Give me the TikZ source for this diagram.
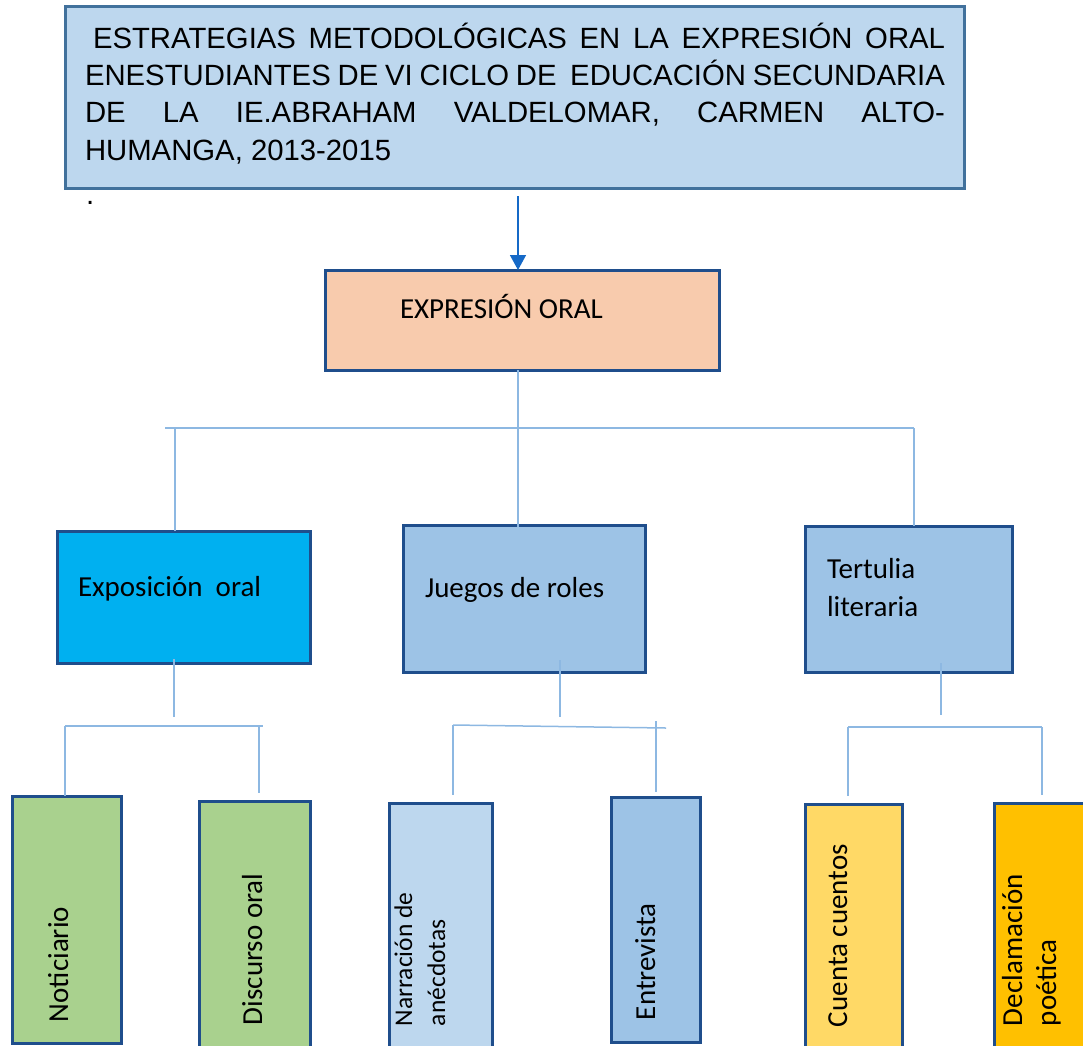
\documentclass[tikz,border=0pt]{standalone}
\usepackage{fontspec}
\setmainfont{Carlito}
\newfontfamily\arialf{Liberation Sans}
\usetikzlibrary{calc,arrows.meta}
\definecolor{titlefill}{HTML}{BDD7EE}
\definecolor{titleline}{HTML}{41719C}
\definecolor{boxline}{HTML}{1F4E8C}
\definecolor{connc}{HTML}{8DB8E2}
\definecolor{arrowc}{HTML}{1569C7}
\definecolor{exprfill}{HTML}{F8CBAD}
\definecolor{expofill}{HTML}{00B0F0}
\definecolor{midblue}{HTML}{9DC3E6}
\definecolor{lightblue}{HTML}{BDD7EE}
\definecolor{greenfill}{HTML}{A9D18E}
\definecolor{yellowfill}{HTML}{FFD966}
\definecolor{orangefill}{HTML}{FFC000}
\begin{document}
\begin{tikzpicture}[x=1pt,y=-1pt,
  box/.style={draw=boxline, line width=3pt, inner sep=0pt, outer sep=0pt},
  lbl/.style={font=\fontsize{29}{35}\selectfont, inner sep=0pt, outer sep=0pt, anchor=base west},
  vlbl/.style={lbl, rotate=90},
  ttl/.style={inner sep=0pt, outer sep=0pt, anchor=base west, font=\arialf\fontsize{29.3}{37}\selectfont},
  conn/.style={draw=connc, line width=1.5pt}]
\useasboundingbox (0,0) rectangle (1083,1045);
\clip (0,0) rectangle (1083,1045);

% boxes
\node[box, draw=titleline, fill=titlefill, minimum width=899pt, minimum height=182pt] (title) at (514.5,97) {};
\node[box, fill=exprfill, minimum width=394pt, minimum height=100pt] (expr) at (522,320) {};
\node[box, fill=expofill, minimum width=253pt, minimum height=132pt] (expo) at (183.5,597) {};
\node[box, fill=midblue, minimum width=242pt, minimum height=147pt] (juegos) at (524,598.5) {};
\node[box, fill=midblue, minimum width=207pt, minimum height=146pt] (tert) at (908.5,599) {};
\node[box, fill=greenfill, minimum width=109pt, minimum height=247pt] (notic) at (66.5,919.5) {};
\node[box, fill=greenfill, minimum width=111pt, minimum height=259pt] (disc) at (254.5,930.5) {};
\node[box, fill=lightblue, minimum width=103pt, minimum height=257pt] (narr) at (440.5,931.5) {};
\node[box, fill=midblue, minimum width=89pt, minimum height=245pt] (entr) at (655.5,919.5) {};
\node[box, fill=yellowfill, minimum width=97pt, minimum height=256pt] (cuen) at (853.5,932) {};
\node[box, fill=orangefill, minimum width=101pt, minimum height=257pt] (decl) at (1044.5,931.5) {};

% title text
\node[ttl] (t1) at (85,48)
  {\makebox[860pt][s]{\kern8pt ESTRATEGIAS METODOLÓGICAS EN LA EXPRESIÓN ORAL}};
\node[ttl] (t2) at (85,85)
  {\makebox[860pt][s]{ENESTUDIANTES DE VI CICLO DE\ \ EDUCACIÓN SECUNDARIA}};
\node[ttl] (t3) at (85,122)
  {\makebox[860pt][s]{DE LA IE.ABRAHAM VALDELOMAR, CARMEN ALTO-}};
\node[ttl] (t4) at (85,160) {HUMANGA, 2013-2015};
\node[ttl] (dot) at (86,204) {.};

% labels
\node[lbl] (exprt) at (400,318) {EXPRESIÓN ORAL};
\node[lbl] (expot) at (78,596) {Exposición\ \ oral};
\node[lbl] (juegost) at (425,597) {Juegos de roles};
\node[lbl] (tert1) at (827,578) {Tertulia};
\node[lbl] (tert2) at (827,616) {literaria};
\node[vlbl] (notict) at (68,1022) {Noticiario};
\node[vlbl] (disct) at (262,1025) {Discurso oral};
\node[vlbl, font=\fontsize{25.5}{32}\selectfont] (narr1) at (412,1026) {Narración de};
\node[vlbl, font=\fontsize{25.5}{32}\selectfont] (narr2) at (445,1026) {anécdotas};
\node[vlbl] (entrt) at (655,1020) {Entrevista};
\node[vlbl] (cuent) at (847,1027) {Cuenta cuentos};
\node[vlbl] (decl1) at (1022,1026) {Declamación};
\node[vlbl] (decl2) at (1056,1026) {poética};

% arrow
\coordinate (a1) at (518,196);
\draw[arrowc, line width=1.5pt, -{Triangle[width=16pt,length=15pt]}] (a1) -- (a1 |- expr.north);

% level 1 connectors
\coordinate (cM) at (518,0);
\coordinate (b1L) at (165,428);
\coordinate (b1R) at (914,428);
\coordinate (b1E) at (175,428);
\draw[conn] (expr.south -| cM) -- ([yshift=-2pt]juegos.north -| cM);
\draw[conn] (b1L) -- (b1R);
\draw[conn] (b1E) -- (expo.north -| b1E);
\draw[conn] (b1R) -- (tert.north -| b1R);

% level 2: Exposicion
\coordinate (e0) at (174,659);
\coordinate (e1) at (174,717);
\coordinate (eL) at (65,726);
\coordinate (eR) at (263,726);
\coordinate (eD) at (259,726);
\coordinate (eDe) at (259,793);
\draw[conn] (e0) -- (e1);
\draw[conn] (eL) -- (eR);
\draw[conn] (eL) -- (notic.north -| eL);
\draw[conn] (eD) -- (eDe);

% level 2: Juegos
\coordinate (j0) at (560,660);
\coordinate (j1) at (560,717);
\coordinate (jL) at (453,725);
\coordinate (jR) at (666,728);
\coordinate (jLe) at (453,795);
\coordinate (jE0) at (656,721);
\coordinate (jEe) at (656,792);
\draw[conn] (j0) -- (j1);
\draw[conn] (jL) -- (jR);
\draw[conn] (jL) -- (jLe);
\draw[conn] (jE0) -- (jEe);

% level 2: Tertulia
\coordinate (r0) at (941,663);
\coordinate (r1) at (941,715);
\coordinate (rL) at (848,727);
\coordinate (rR) at (1042,727);
\coordinate (rLe) at (848,796);
\coordinate (rRe) at (1042,795);
\draw[conn] (r0) -- (r1);
\draw[conn] (rL) -- (rR);
\draw[conn] (rL) -- (rLe);
\draw[conn] (rR) -- (rRe);
\end{tikzpicture}
\end{document}
